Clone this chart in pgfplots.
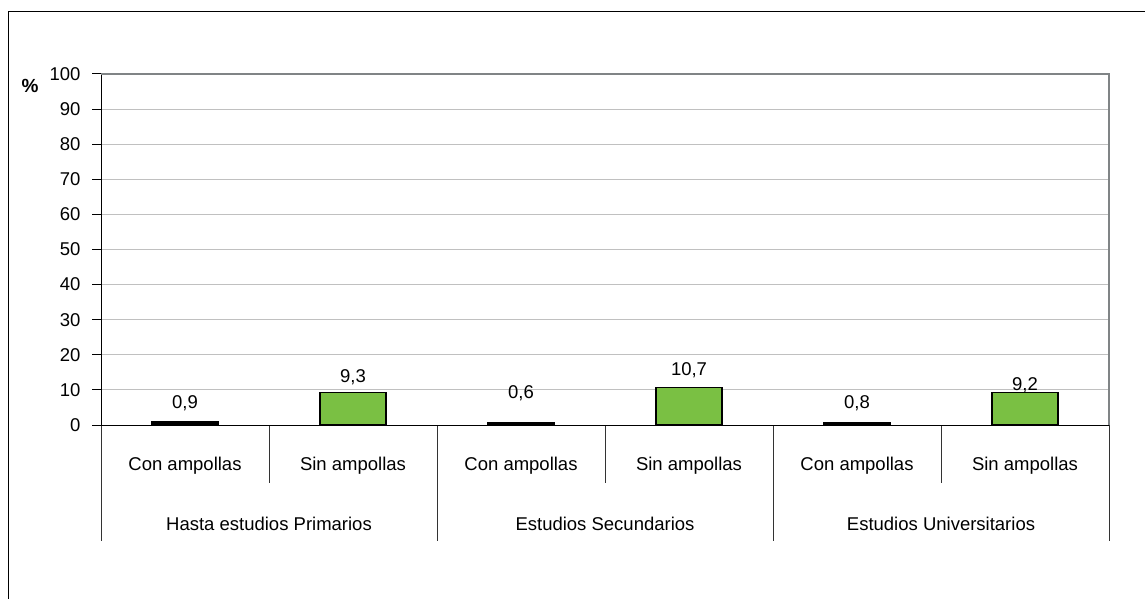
\documentclass[border=0pt]{standalone}
\usepackage{pgfplots}
\pgfplotsset{compat=1.18}
\usepackage{fontspec}
\setmainfont{Liberation Sans}

\definecolor{bargreen}{RGB}{122,192,67}
\definecolor{gridgray}{RGB}{192,192,192}
\definecolor{framegray}{RGB}{128,132,134}

\begin{document}
\begin{tikzpicture}[x=1pt,y=1pt]
\path[use as bounding box] (0,0) rectangle (1145,598);
% outer frame (only left and top visible)
\draw[black, line width=1pt] (8,-5) -- (8,586) -- (1150,586);
\node[font=\fontsize{19}{20}\selectfont\bfseries] at (30,512) {\%};

\begin{axis}[
    at={(101pt,173pt)}, anchor=south west,
    scale only axis, width=1008pt, height=351pt,
    xmin=-0.5, xmax=5.5, ymin=0, ymax=100,
    ytick={0,10,...,100}, xtick=\empty,
    axis x line*=bottom, axis y line*=left,
    axis line style={black, line width=1pt, -},
    ymajorgrids, grid style={gridgray, line width=0.9pt},
    major tick length=9pt, tick align=outside,
    tick style={black, line width=1pt},
    yticklabel style={xshift=-8pt},
    font=\fontsize{18.5}{20}\selectfont,
    /pgf/number format/assume math mode=true,
    clip=false,
  ]
  % plot area border, top and right
  \draw[framegray, line width=1.6pt] (axis cs:-0.5,100) -- (axis cs:5.5,100) -- (axis cs:5.5,0);

  \addplot[ybar, bar width=66pt, bar shift=0pt, fill=black, draw=black, line width=1.3pt]
    coordinates {(0,0.9) (2,0.6) (4,0.8)};
  \addplot[ybar, bar width=66pt, bar shift=0pt, fill=bargreen, draw=black, line width=1.3pt]
    coordinates {(1,9.3) (3,10.7) (5,9.2)};

  % value labels
  \node at (axis cs:0,6.3) {0,9};
  \node at (axis cs:1,13.7) {9,3};
  \node at (axis cs:2,9.0) {0,6};
  \node at (axis cs:3,15.7) {10,7};
  \node at (axis cs:4,6.1) {0,8};
  \node at (axis cs:5,11.4) {9,2};

  % category separators below the axis
  \pgfplotsinvokeforeach{0.5,2.5,4.5}{
    \draw[black!80, line width=1pt] (axis cs:#1,0) -- ++(0pt,-58pt);
  }
  \pgfplotsinvokeforeach{-0.5,1.5,3.5,5.5}{
    \draw[black!80, line width=1pt] (axis cs:#1,0) -- ++(0pt,-116pt);
  }
  \draw[black, line width=1pt] (axis cs:-0.5,0) -- (axis cs:5.5,0);

  % inner labels
  \node[yshift=-41pt] at (axis cs:0,0) {Con ampollas};
  \node[yshift=-41pt] at (axis cs:1,0) {Sin ampollas};
  \node[yshift=-41pt] at (axis cs:2,0) {Con ampollas};
  \node[yshift=-41pt] at (axis cs:3,0) {Sin ampollas};
  \node[yshift=-41pt] at (axis cs:4,0) {Con ampollas};
  \node[yshift=-41pt] at (axis cs:5,0) {Sin ampollas};
  % group labels
  \node[yshift=-99pt] at (axis cs:0.5,0) {Hasta estudios Primarios};
  \node[yshift=-99pt] at (axis cs:2.5,0) {Estudios Secundarios};
  \node[yshift=-99pt] at (axis cs:4.5,0) {Estudios Universitarios};
\end{axis}
\end{tikzpicture}
\end{document}
